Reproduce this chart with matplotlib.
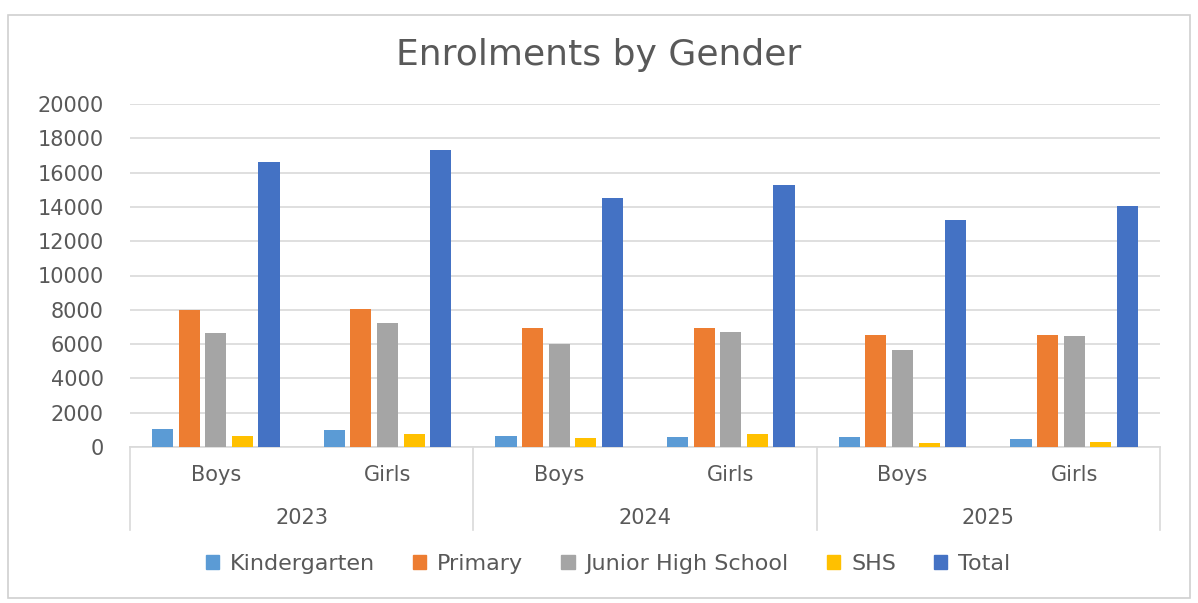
import matplotlib
matplotlib.use("Agg")
import matplotlib.pyplot as plt
import matplotlib.patches as mpatches
from matplotlib.lines import Line2D
import matplotlib.transforms as mtransforms
import numpy as np

plt.rcParams['font.family'] = ['DejaVu Sans']

years = ["2023", "2024", "2025"]
genders = ["Boys", "Girls"]
series_names = ["Kindergarten", "Primary", "Junior High School", "SHS", "Total"]
kindergarten = [1050, 980, 665, 570, 570, 490]
primary = [7960, 8040, 6960, 6960, 6510, 6510]
junior_high = [6670, 7230, 6020, 6690, 5670, 6450]
shs = [650, 740, 550, 780, 215, 295]
total = [16640, 17340, 14545, 15270, 13255, 14060]
y_ticks = [0, 2000, 4000, 6000, 8000, 10000, 12000, 14000, 16000, 18000, 20000]

colors = ["#5B9BD5", "#ED7D31", "#A5A5A5", "#FFC000", "#4472C4"]
text_color = "#595959"
grid_color = "#D9D9D9"
fs = 15

W, H = 1198, 603
fig = plt.figure(figsize=(W / 100, H / 100), dpi=100)
fig.patch.set_facecolor("white")

# outer chart border
fig.add_artist(mpatches.Rectangle((8 / W, 1 - 598 / H), (1190 - 8) / W, (598 - 15) / H,
                                  transform=fig.transFigure, fill=False,
                                  edgecolor="#D0D0D0", linewidth=1.2))

ax = fig.add_axes([130 / W, 1 - 447 / H, (1160 - 130) / W, (447 - 104) / H])

series = [kindergarten, primary, junior_high, shs, total]
n_cat = len(years) * len(genders)
x = np.arange(n_cat)
step = 0.155
width = 0.123
for i, (vals, c, name) in enumerate(zip(series, colors, series_names)):
    ax.bar(x + (i - 2) * step, vals, width=width, color=c, label=name, zorder=3)

ax.set_xlim(-0.5, n_cat - 0.5)
ax.set_ylim(0, 20000)
ax.set_yticks(y_ticks)
ax.set_yticklabels([str(t) for t in y_ticks], fontsize=fs, color=text_color)
ax.tick_params(axis='y', length=0, pad=19)
ax.set_xticks([])
ax.grid(axis='y', color=grid_color, linewidth=1.2, zorder=0)
for s in ["top", "right", "left"]:
    ax.spines[s].set_visible(False)
ax.spines["bottom"].set_color(grid_color)
ax.spines["bottom"].set_linewidth(1.2)

trans = mtransforms.blended_transform_factory(ax.transData, ax.transAxes)
depth = (530 - 447) / (447 - 104)
for b in [-0.5, 1.5, 3.5, 5.5]:
    ax.add_line(Line2D([b, b], [0, -depth], transform=trans, color=grid_color,
                       linewidth=1.2, clip_on=False))

gender_y = -(475 - 447) / (447 - 104)
year_y = -(518 - 447) / (447 - 104)
for k in range(n_cat):
    ax.text(x[k], gender_y, genders[k % 2], transform=trans, ha="center", va="center",
            fontsize=fs, color=text_color)
for j, yr in enumerate(years):
    ax.text(2 * j + 0.5, year_y, yr, transform=trans, ha="center", va="center",
            fontsize=fs, color=text_color)

fig.text(599 / W, 1 - 55 / H, "Enrolments by Gender", ha="center", va="center",
         fontsize=26, color=text_color)

handles = [mpatches.Patch(color=c, label=n) for c, n in zip(colors, series_names)]
fig.legend(handles=handles, loc="center", bbox_to_anchor=(608 / W, 1 - 564 / H),
           ncol=5, frameon=False, fontsize=16, handlelength=0.6, handleheight=0.6,
           handletextpad=0.5, columnspacing=1.7, labelcolor=text_color)

fig.savefig("out.png", dpi=100, facecolor="white")
